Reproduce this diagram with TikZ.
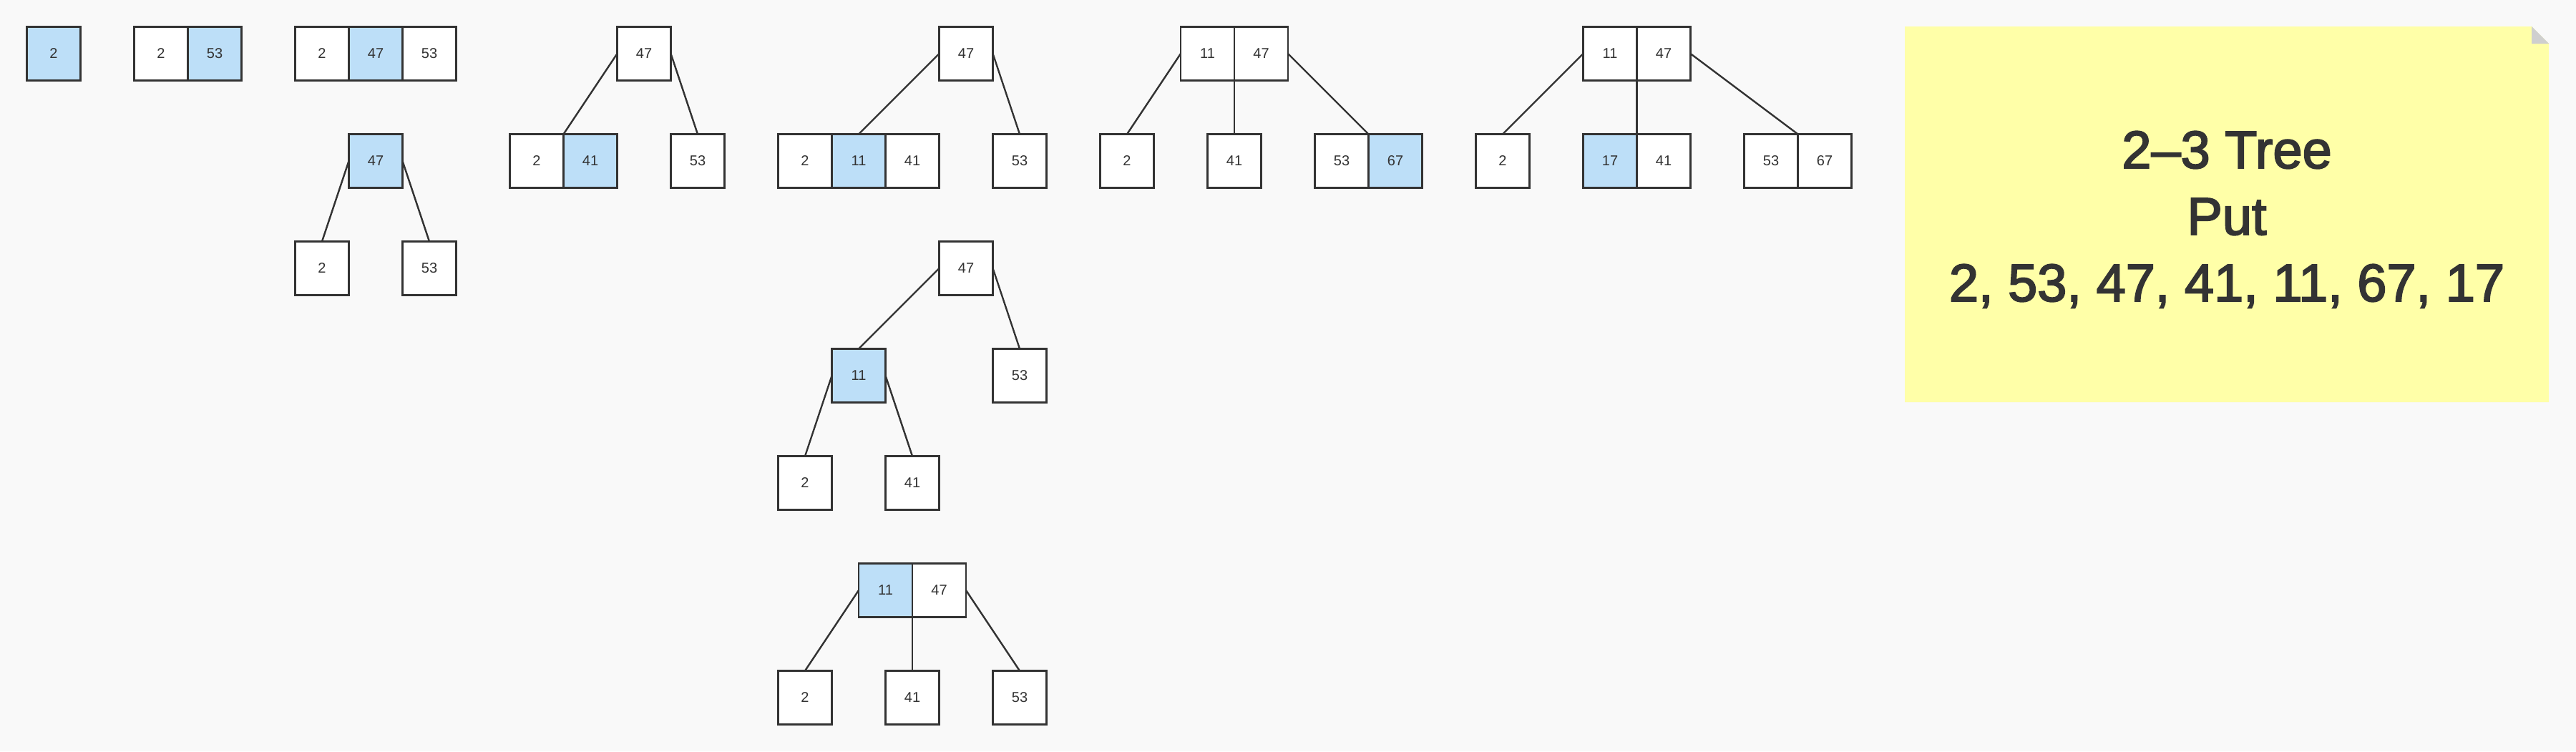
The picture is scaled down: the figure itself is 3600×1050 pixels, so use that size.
\documentclass[tikz,border=0pt]{standalone}
\usepackage{fontspec}
\setmainfont{Liberation Sans}
\newfontfamily\notefont{Liberation Sans}[FakeBold=2.6]
\definecolor{bgc}{HTML}{F9F9F9}
\definecolor{linec}{HTML}{333333}
\definecolor{bluec}{HTML}{BDDFF8}
\definecolor{notec}{HTML}{FFFFA8}
\definecolor{foldc}{HTML}{CFCFCF}
\tikzset{
  cell/.style={rectangle, draw=linec, line width=2.4pt, fill=white, minimum width=75pt, minimum height=75pt, inner sep=0pt, outer sep=0pt, text=linec, font=\fontsize{20}{24}\selectfont},
  hl/.style={cell, fill=bluec},
  edge/.style={draw=linec, line width=2.4pt},
  notetext/.style={text=linec, font=\notefont\fontsize{74}{93}\selectfont, anchor=base, inner sep=0pt},
}
\begin{document}
\begin{tikzpicture}[x=1pt,y=-1pt]
\fill[bgc] (0,0) rectangle (3600,1050);
\useasboundingbox (0,0) rectangle (3600,1050);
% step 1
\node[hl] (a1) at (75,75) {2};
% step 2
\node[cell] (b1) at (225,75) {2};
\node[hl] (b2) at (300,75) {53};
% step 3
\node[cell] (c1) at (450,75) {2};
\node[hl] (c2) at (525,75) {47};
\node[cell] (c3) at (600,75) {53};
\node[hl] (d0) at (525,225) {47};
\node[cell] (d1) at (450,375) {2};
\node[cell] (d2) at (600,375) {53};
\draw[edge] (d0.west) -- (d1.north);
\draw[edge] (d0.east) -- (d2.north);
% step 4
\node[cell] (e0) at (900,75) {47};
\node[cell] (e1) at (750,225) {2};
\node[hl] (e2) at (825,225) {41};
\node[cell] (e3) at (975,225) {53};
\draw[edge] (e0.west) -- (e1.north east);
\draw[edge] (e0.east) -- (e3.north);
% step 5
\node[cell] (f0) at (1350,75) {47};
\node[cell] (f1) at (1125,225) {2};
\node[hl] (f2) at (1200,225) {11};
\node[cell] (f3) at (1275,225) {41};
\node[cell] (f4) at (1425,225) {53};
\draw[edge] (f0.west) -- (f2.north);
\draw[edge] (f0.east) -- (f4.north);
\node[cell] (g0) at (1350,375) {47};
\node[hl] (g1) at (1200,525) {11};
\node[cell] (g2) at (1425,525) {53};
\node[cell] (g3) at (1125,675) {2};
\node[cell] (g4) at (1275,675) {41};
\draw[edge] (g0.west) -- (g1.north);
\draw[edge] (g0.east) -- (g2.north);
\draw[edge] (g1.west) -- (g3.north);
\draw[edge] (g1.east) -- (g4.north);
\node[hl] (h0) at (1237.5,825) {11};
\node[cell] (h1) at (1312.5,825) {47};
\node[cell] (h2) at (1125,975) {2};
\node[cell] (h3) at (1275,975) {41};
\node[cell] (h4) at (1425,975) {53};
\draw[edge] (h0.west) -- (h2.north);
\draw[edge] (h0.south east) -- (h3.north);
\draw[edge] (h1.east) -- (h4.north);
% step 6
\node[cell] (i0) at (1687.5,75) {11};
\node[cell] (i1) at (1762.5,75) {47};
\node[cell] (i2) at (1575,225) {2};
\node[cell] (i3) at (1725,225) {41};
\node[cell] (i4) at (1875,225) {53};
\node[hl] (i5) at (1950,225) {67};
\draw[edge] (i0.west) -- (i2.north);
\draw[edge] (i0.south east) -- (i3.north);
\draw[edge] (i1.east) -- (i4.north east);
% step 7
\node[cell] (j0) at (2250,75) {11};
\node[cell] (j1) at (2325,75) {47};
\node[cell] (j2) at (2100,225) {2};
\node[hl] (j3) at (2250,225) {17};
\node[cell] (j4) at (2325,225) {41};
\node[cell] (j5) at (2475,225) {53};
\node[cell] (j6) at (2550,225) {67};
\draw[edge] (j0.west) -- (j2.north);
\draw[edge] (j0.south east) -- (j3.north east);
\draw[edge] (j1.east) -- (j5.north east);
% note
\fill[notec] (2662,37) -- (3538,37) -- (3562,61) -- (3562,562) -- (2662,562) -- cycle;
\fill[foldc] (3538,37) -- (3538,61) -- (3562,61) -- cycle;
\node[notetext] (t1) at (3112,235) {2–3 Tree};
\node[notetext] (t2) at (3112,328) {Put};
\node[notetext] (t3) at (3112,421) {2, 53, 47, 41, 11, 67, 17};
\end{tikzpicture}
\end{document}
